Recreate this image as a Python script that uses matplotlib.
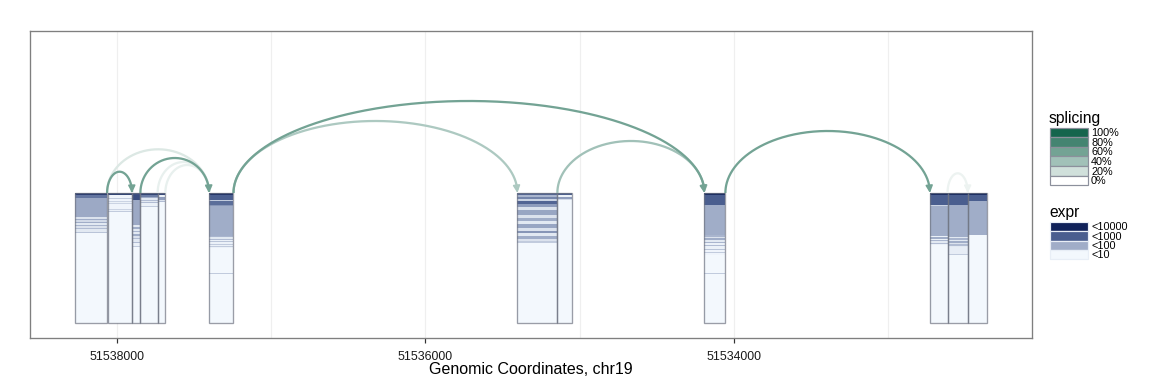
import numpy as np
import matplotlib
matplotlib.use('Agg')
import matplotlib.pyplot as plt
from matplotlib.colors import LinearSegmentedColormap
from matplotlib.patches import Rectangle

plt.rcParams['font.family'] = ['Liberation Sans', 'DejaVu Sans']

# ---------------- data ----------------
exon_start = [51538270, 51538060, 51537903, 51537849, 51537737, 51537403,
              51535403, 51535144, 51534190, 51532727, 51532613, 51532481]
exon_end = [51538065, 51537903, 51537849, 51537737, 51537687, 51537245,
            51535144, 51535047, 51534054, 51532613, 51532481, 51532360]

# per-exon sample expression (log10 scale), run-length encoded (n_samples, log10 expr), top to bottom
expr_runs = [
    [(2, 2.6), (3, 1.7), (19, 1.05), (2, 0.3), (1, 1.0), (2, 0.4), (1, 1.0), (2, 0.2), (1, 0.9),
     (2, 0.3), (1, 0.8), (3, 0.2), (1, 0.7), (90, 0.0)],
    [(2, 2.5), (3, 0.05), (1, 0.6), (2, 0.05), (1, 0.5), (1, 0.1), (1, 0.5), (5, 0.05), (1, 0.5),
     (1, 0.1), (1, 0.6), (111, 0.0)],
    [(7, 2.3), (25, 1.05), (2, 0.2), (2, 1.0), (2, 0.2), (1, 0.9), (2, 0.2), (2, 1.0), (2, 0.3),
     (1, 0.8), (3, 0.2), (1, 0.8), (3, 0.1), (1, 0.6), (76, 0.0)],
    [(2, 2.5), (2, 1.6), (1, 1.0), (2, 0.2), (1, 0.8), (1, 0.2), (1, 0.8), (3, 0.1), (1, 0.6),
     (116, 0.0)],
    [(2, 2.4), (2, 0.1), (3, 1.2), (1, 0.3), (1, 0.8), (121, 0.0)],
    [(2, 2.8), (5, 2.0), (1, 0.6), (4, 1.8), (1, 1.3), (30, 1.0), (1, 0.9), (2, 0.2), (1, 0.8),
     (1, 0.1), (1, 0.7), (2, 0.1), (1, 0.6), (1, 0.1), (1, 0.6), (1, 0.1), (25, 0.0), (1, 0.6),
     (49, 0.0)],
    [(2, 1.9), (2, 0.9), (2, 1.5), (2, 0.5), (3, 1.9), (3, 1.2), (3, 0.3), (5, 1.1), (3, 0.3),
     (3, 1.0), (3, 0.2), (4, 1.1), (3, 0.3), (2, 1.3), (3, 0.2), (3, 1.0), (2, 0.3), (2, 0.6),
     (80, 0.0)],
    [(2, 2.0), (2, 0.1), (2, 1.2), (1, 0.4), (123, 0.0)],
    [(2, 2.9), (10, 2.0), (30, 1.0), (2, 0.9), (1, 0.3), (2, 1.0), (2, 0.2), (1, 0.9), (2, 0.1),
     (1, 0.8), (3, 0.1), (1, 0.7), (2, 0.05), (1, 0.6), (2, 0.05), (18, 0.0), (1, 0.6), (49, 0.0)],
    [(2, 2.9), (10, 2.0), (1, 0.5), (30, 1.0), (1, 0.1), (2, 1.0), (1, 0.1), (1, 0.9), (2, 0.2),
     (1, 0.8), (1, 0.1), (78, 0.0)],
    [(2, 2.9), (10, 2.0), (32, 1.0), (1, 0.2), (2, 0.9), (1, 0.2), (2, 1.0), (1, 0.3), (2, 0.8),
     (1, 0.2), (7, 0.15), (1, 0.6), (68, 0.0)],
    [(2, 2.9), (6, 2.0), (34, 1.0), (88, 0.0)],
]

# splice junction arcs
arc_from = [51538065, 51538065, 51537849, 51537737, 51537687, 51537245, 51537245,
            51535144, 51534054, 51532613]
arc_to = [51537903, 51537403, 51537403, 51537403, 51537403, 51534190, 51535403,
          51534190, 51532727, 51532481]
arc_peak = [166.3, 188.7, 180.0, 176.0, 173.0, 237.0, 217.0, 197.0, 207.0, 164.7]
arc_splicing = [0.6, 0.15, 0.6, 0.1, 0.1, 0.6, 0.35, 0.4, 0.6, 0.08]

major_ticks = [51538000, 51536000, 51534000]
minor_ticks = [51537000, 51535000, 51533000]
tick_labels = ['51538000', '51536000', '51534000']
x_label = 'Genomic Coordinates, chr19'

splicing_levels = [1.0, 0.8, 0.6, 0.4, 0.2, 0.0]
splicing_labels = ['100%', '80%', '60%', '40%', '20%', '0%']
expr_levels = [3, 2, 1, 0]
expr_labels = ['<10000', '<1000', '<100', '<10']

# ---------------- styles ----------------
expr_cmap = LinearSegmentedColormap.from_list(
    'expr', [(0, '#f3f8fd'), (1 / 3, '#a0adc8'), (2 / 3, '#4a5e8f'), (1, '#10225a')])
spl_cmap = LinearSegmentedColormap.from_list('spl', ['#ffffff', '#15654d'])

W, H = 1152, 384
fig = plt.figure(figsize=(W / 96, H / 96), dpi=96)
L, R, T, B = 30, 1032, 31, 338
ax = fig.add_axes([L / W, 1 - B / H, (R - L) / W, (B - T) / H])

EX_TOP, EX_BOT = 145.0, 15.0

ax.set_xlim(51538565, 51532065)
ax.set_ylim(0, 307)

# grid
for g in major_ticks + minor_ticks:
    ax.axvline(g, color='#efefef', lw=0.9, zorder=0)

# exons
for s, e, runs in zip(exon_start, exon_end, expr_runs):
    vals = np.concatenate([np.full(n, v) for n, v in runs])
    n = len(vals)
    yedges = np.linspace(EX_TOP, EX_BOT, n + 1)
    ax.pcolormesh([s, e], yedges, vals.reshape(n, 1), cmap=expr_cmap, vmin=0, vmax=3,
                  shading='flat', antialiased=False, zorder=2)
    ax.add_patch(Rectangle((e, EX_BOT), s - e, EX_TOP - EX_BOT, fill=False,
                           edgecolor='#6f7482', lw=1.0, alpha=0.7, zorder=3))

# arcs
order = np.argsort(arc_splicing)
t = np.linspace(0, np.pi, 300)
for i in order:
    x1, x2, pk, sp = arc_from[i], arc_to[i], arc_peak[i], arc_splicing[i]
    col = spl_cmap(sp)
    cx, a = (x1 + x2) / 2, (x1 - x2) / 2
    xs = cx + a * np.cos(t)
    ys = EX_TOP + (pk - EX_TOP) * np.sin(t)
    ax.plot(xs[:-4], ys[:-4], color=col, lw=1.7, solid_capstyle='butt', zorder=4 + sp)
    ax.annotate('', xy=(xs[-1], ys[-1]), xytext=(xs[-12], ys[-12]),
                arrowprops=dict(arrowstyle='-|>,head_length=0.45,head_width=0.22',
                                color=col, lw=1.2, shrinkA=0, shrinkB=0,
                                mutation_scale=10), zorder=4 + sp)

ax.set_xticks(major_ticks)
ax.set_xticklabels(tick_labels, fontsize=9.3, color='#1a1a1a')
ax.set_xticks(minor_ticks, minor=True)
ax.tick_params(axis='x', which='major', length=4, width=0.9, color='#333333', pad=6)
ax.tick_params(axis='x', which='minor', length=0)
ax.set_yticks([])
ax.set_xlabel(x_label, fontsize=12, color='black', labelpad=-1)
for sp_ in ax.spines.values():
    sp_.set_color('#7f7f7f')
    sp_.set_linewidth(1.0)

# ---------------- legends (figure pixel coordinates) ----------------
def fx(x):
    return x / W

def fy(y):
    return 1 - y / H

def key(x, y, w, h, fc, ec):
    fig.patches.append(Rectangle((fx(x), fy(y + h)), w / W, h / H, transform=fig.transFigure,
                                 facecolor=fc, edgecolor=ec, lw=0.9))

KX, KW = 1049.5, 38.5
fig.text(fx(1049), fy(123), 'splicing', fontsize=11.7, ha='left', va='baseline')
kh = 9.55
for j, (lv, lb) in enumerate(zip(splicing_levels, splicing_labels)):
    y0 = 127.8 + j * kh
    key(KX, y0, KW, kh, spl_cmap(lv), '#8c909c')
    fig.text(fx(1091), fy(y0 + kh / 2 + 0.8), lb, fontsize=8.2, ha='left', va='center')

fig.text(fx(1049), fy(217), 'expr', fontsize=11.7, ha='left', va='baseline')
kh2 = 9.4
for j, (lv, lb) in enumerate(zip(expr_levels, expr_labels)):
    y0 = 221.8 + j * kh2
    key(KX, y0, KW, kh2, expr_cmap(lv / 3), '#e8eef6')
    fig.text(fx(1091), fy(y0 + kh2 / 2 + 0.8), lb, fontsize=8.2, ha='left', va='center')

fig.savefig('out.png', dpi=96)
